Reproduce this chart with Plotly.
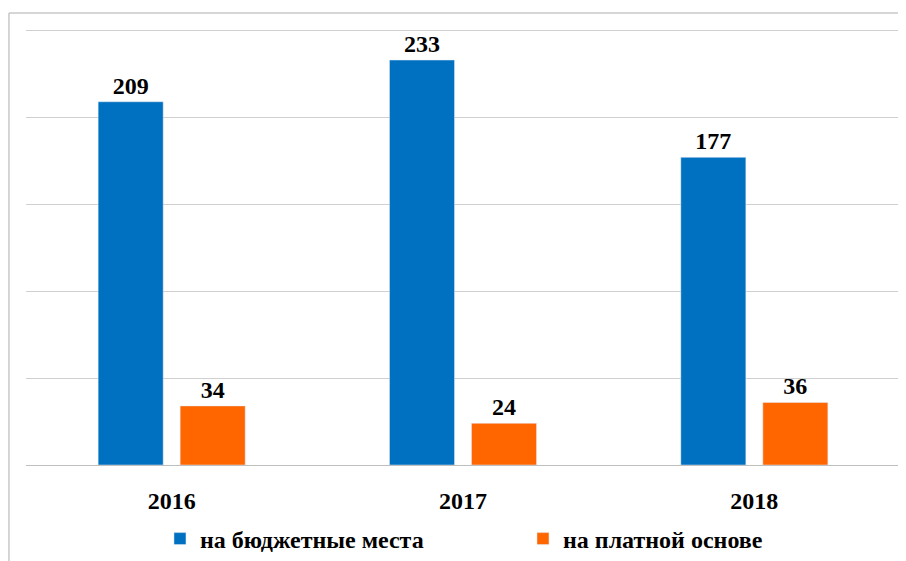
import plotly.graph_objects as go

years = ["2016", "2017", "2018"]
budget = [209, 233, 177]
paid = [34, 24, 36]
series_names = ["на бюджетные места", "на платной основе"]
tick_vals = [0, 50, 100, 150, 200, 250]

serif = "Liberation Serif, DejaVu Serif, serif"
label_font = dict(family=serif, size=24, color="black")

fig = go.Figure()
fig.add_trace(go.Bar(
    x=years, y=budget, name="<b>" + series_names[0] + "</b>",
    marker_color="#0070c0",
    text=[f"<b>{v}</b>" for v in budget], textposition="outside",
    textfont=label_font, cliponaxis=False,
))
fig.add_trace(go.Bar(
    x=years, y=paid, name="<b>" + series_names[1] + "</b>",
    marker_color="#ff6600",
    text=[f"<b>{v}</b>" for v in paid], textposition="outside",
    textfont=label_font, cliponaxis=False,
))

# the page body adds an 8px offset, so the figure is sized to fit the window
fig.update_layout(
    width=898, height=553,
    margin=dict(l=18, r=6, t=19, b=96, autoexpand=False),
    paper_bgcolor="white", plot_bgcolor="white",
    barmode="group", bargap=0.437, bargroupgap=0.207,
    font=dict(family=serif, size=20, color="black"),
    showlegend=True,
    legend=dict(
        orientation="h", x=0.1533, xanchor="left", y=-0.169, yanchor="middle",
        entrywidth=318, entrywidthmode="pixels",
        font=dict(family=serif, size=24, color="black"),
        itemwidth=30,
    ),
    xaxis=dict(
        tickvals=years, ticktext=[f"<b>{y}</b>" for y in years],
        tickfont=dict(family=serif, size=24, color="black"),
        showline=True, linecolor="#bfbfbf", linewidth=1, ticks="",
        ticklabelstandoff=14, automargin=False,
    ),
    yaxis=dict(
        range=[0, 252], tickvals=tick_vals, showticklabels=False,
        showgrid=True, gridcolor="#d0d0d0", gridwidth=1, zeroline=False,
        automargin=False,
    ),
)

# chart frame, only the top and left edges are in view
frame = dict(color="#c8c8c8", width=1.5)
fig.add_shape(type="line", xref="paper", yref="paper",
              x0=-0.0195, x1=1.2, y0=1.032, y1=1.032, line=frame)
fig.add_shape(type="line", xref="paper", yref="paper",
              x0=-0.0195, x1=-0.0195, y0=-0.3, y1=1.032, line=frame)

fig.write_html("out.html")
